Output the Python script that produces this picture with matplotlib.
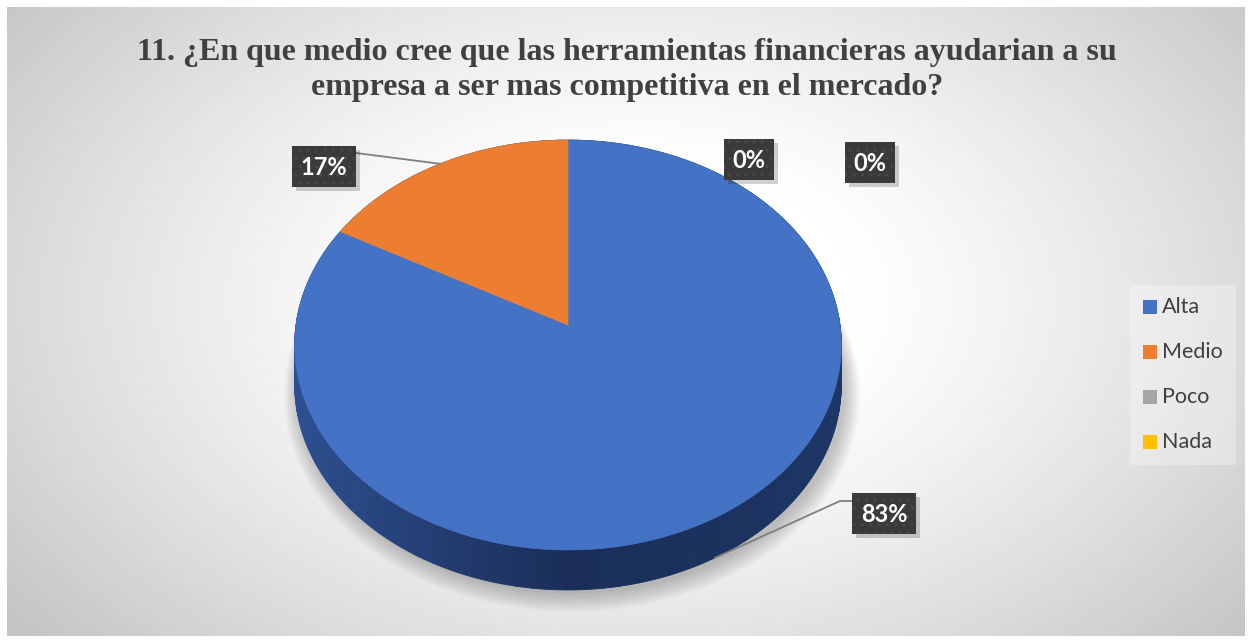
import numpy as np
import matplotlib
matplotlib.use("Agg")
import matplotlib.pyplot as plt
from matplotlib.patches import Polygon, Rectangle

categories = ["Alta", "Medio", "Poco", "Nada"]
shares = [83, 17, 0, 0]
colors = ["#4472C4", "#ED7D31", "#A5A5A5", "#FFC000"]
title = ("11. ¿En que medio cree que las herramientas financieras ayudarian a su\n"
         "empresa a ser mas competitiva en el mercado?")

# label boxes (left, top) in pixel space, one per category
label_boxes = [(852, 493), (292, 146), (724, 139), (845, 142)]

W, H = 1250, 641
fig = plt.figure(figsize=(W / 100, H / 100), dpi=100)
ax = fig.add_axes([0, 0, 1, 1])
ax.axis("off")

# chart area with soft radial gradient
x0, y0, x1, y1 = 7, 7, 1245, 636
xx, yy = np.meshgrid(np.arange(x0, x1), np.arange(y0, y1))
d = np.sqrt(((xx - 640) / 700) ** 2 + ((yy - 300) / 450) ** 2)
g = 1 - 0.23 * np.clip((d - 0.3) / 0.85, 0, 1) ** 1.2
ax.imshow(np.dstack([g, g, g]), extent=(x0, x1, y1, y0), zorder=0, interpolation="bilinear")
ax.set_xlim(0, W)
ax.set_ylim(H, 0)

# pie projected with a little perspective
cx, cy, A, B, k, depth = 568, 325, 272, 203, 0.0976, 40


def proj(theta, dy=0.0, scale=1.0, ox=0.0):
    u, v = np.sin(theta), -np.cos(theta)
    w = 1 - k * v
    return cx + ox + scale * A * u / w, cy + scale * B * v / w + dy


# soft shadow under the pie
full = np.linspace(0, 2 * np.pi, 240)
for i in range(10):
    sx, sy = proj(full, dy=depth + 4 + i * 0.6, scale=1.0 + i * 0.006, ox=4)
    ax.add_patch(Polygon(np.column_stack([sx, sy]), closed=True, fc="#000000",
                         ec="none", alpha=0.025, zorder=1))

# side wall, drawn back to front
n = 360
th = np.linspace(0, 2 * np.pi, n + 1)
order = np.argsort(np.cos(th[:-1] + np.pi / n))
side_left = np.array([0x2E, 0x50, 0x92]) / 255
side_front = np.array([0x1A, 0x2E, 0x58]) / 255
side_right = np.array([0x1D, 0x36, 0x66]) / 255
for j in order:
    a, b = th[j], th[j + 1]
    s = np.sin((a + b) / 2)
    t = abs(s)
    base = side_right if s > 0 else side_left
    col = side_front * (1 - t) + base * t
    tx, ty = proj(np.array([a, b]))
    bx, by = proj(np.array([b, a]), dy=depth)
    ax.add_patch(Polygon(np.column_stack([np.r_[tx, bx], np.r_[ty, by]]), closed=True,
                         fc=col, ec=col, lw=0.6, zorder=2))

# top face slices, clockwise from twelve o'clock
fracs = np.array(shares, dtype=float) / sum(shares)
edges = np.r_[0, np.cumsum(fracs)] * 2 * np.pi
for i, c in enumerate(colors):
    if fracs[i] <= 0:
        continue
    arc = np.linspace(edges[i], edges[i + 1], 200)
    px, py = proj(arc)
    ax.add_patch(Polygon(np.column_stack([np.r_[cx, px], np.r_[cy, py]]), closed=True,
                         fc=c, ec=c, lw=0.5, zorder=3))

# data labels
plt.rcParams["hatch.linewidth"] = 0.8
bh = 41
mids = (edges[:-1] + edges[1:]) / 2
for i, (lx, ly) in enumerate(label_boxes):
    txt = f"{shares[i]}%"
    w_box = 64 if shares[i] >= 10 else 50
    ax.add_patch(Rectangle((lx + 4, ly + 4), w_box, bh, fc="#000000", ec="none",
                           alpha=0.18, zorder=5))
    ax.add_patch(Rectangle((lx, ly), w_box, bh, fc="#3a3a3a", ec="#4a4a4a", lw=0,
                           hatch="..", zorder=6))
    ax.text(lx + w_box / 2, ly + bh / 2 + 1, txt, ha="center", va="center",
            color="white", fontsize=17, fontweight="bold", family="Lato", zorder=7)

# leader lines for the two visible slices
ex, ey = proj(mids[0], dy=depth)
lx, ly = label_boxes[0]
ax.plot([ex - 4, lx - 12, lx], [ey + 2, ly + 8, ly + 8], color="#7f7f7f", lw=1.3, zorder=4)
ex, ey = proj(mids[1])
lx, ly = label_boxes[1]
ax.plot([lx + 64, ex], [ly + 7, ey], color="#7f7f7f", lw=1.3, zorder=4)

# legend
ax.add_patch(Rectangle((1130, 285), 106, 180, fc="white", ec="none", alpha=0.3, zorder=5))
for i, (name, c) in enumerate(zip(categories, colors)):
    ry = 307 + i * 45
    ax.add_patch(Rectangle((1143, ry - 7), 14, 14, fc=c, ec="none", zorder=6))
    ax.text(1162, ry, name, ha="left", va="center", color="#404040", fontsize=15.5,
            family="Lato", zorder=6)

ax.text(627, 70, title, ha="center", va="center", color="#404040", fontsize=23,
        fontweight="bold", family="Liberation Serif", linespacing=1.3, zorder=6)

fig.savefig("out.png", dpi=100)
